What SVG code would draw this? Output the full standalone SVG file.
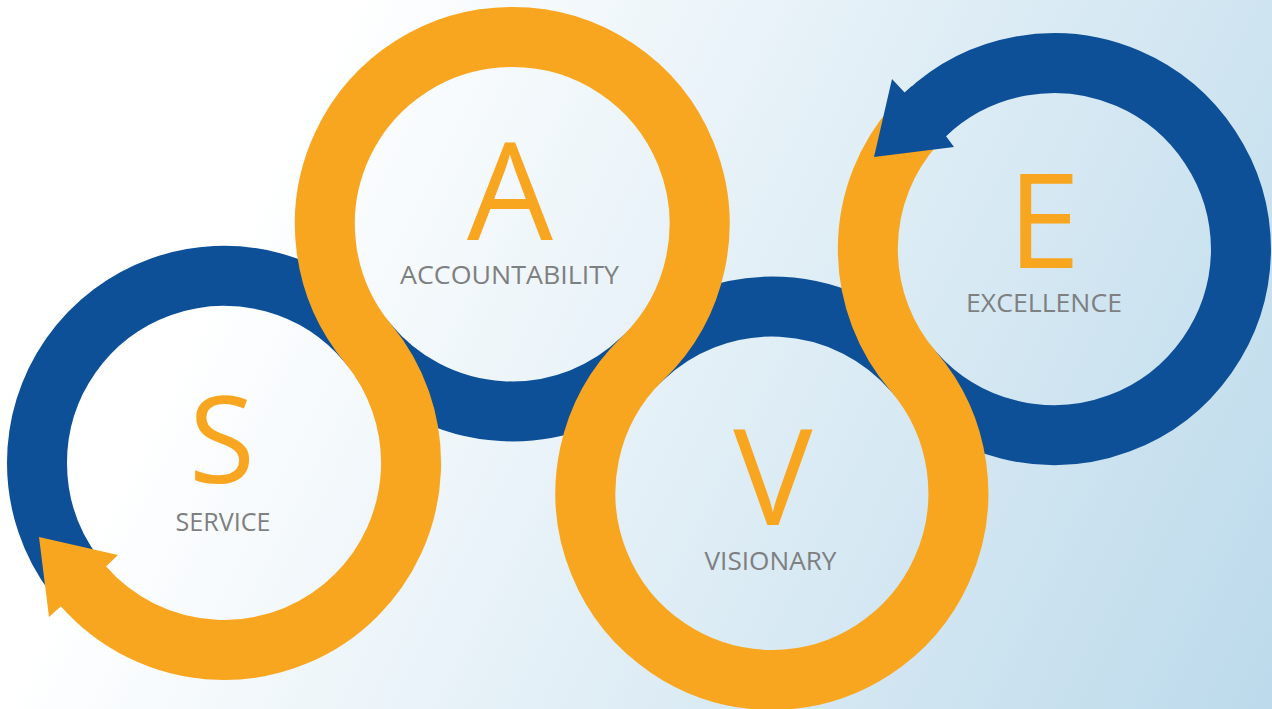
<svg xmlns="http://www.w3.org/2000/svg" width="1272" height="709" viewBox="0 0 1272 709">
<defs>
<linearGradient id="bg" gradientUnits="userSpaceOnUse" x1="250" y1="200" x2="1272" y2="709">
<stop offset="0" stop-color="#ffffff"/>
<stop offset="1" stop-color="#bcdaeb"/>
</linearGradient>
<style>
.ribbon{fill:none;stroke-width:60;stroke-linecap:butt}
.blue{stroke:#0d5098}
.orange{stroke:#f8a61f}
.bluef{fill:#0d5098}
.orangef{fill:#f8a61f}
.big{font-family:"Open Sans","Liberation Sans",sans-serif;font-weight:400;fill:#f8a61f;text-anchor:middle}
.lbl{font-family:"Open Sans","Liberation Sans",sans-serif;font-weight:400;font-size:26px;fill:#7e7f81}
</style>
</defs>
<rect width="1272" height="709" fill="url(#bg)"/>
<g id="connectors">
<path class="ribbon blue" d="M925.3,114.4 A187,187 0 0 1 1241,250 A187,187 0 0 1 913.5,371.5 A187,187 0 0 0 642.5,358.5 A187,187 0 0 1 368,343.5 A187,187 0 0 0 37,463 A187,187 0 0 0 74.7,575.5"/>
<path class="ribbon orange" d="M83.5,586.4 A187,187 0 0 0 356.2,595.2 A187,187 0 0 0 368,343.5 A187,187 0 0 1 512,37 A187,187 0 0 1 642.5,358.5 A187,187 0 0 0 773,680 A187,187 0 0 0 913.5,371.5 A187,187 0 0 1 915,124.9"/>
<polygon class="orangef" points="106,566.6 111.1,572.1 67.9,613.7 61,606.2 49,617 39,537 118,555"/>
<polygon class="bluef" points="874,157 892,79 904.6,92.6 911.6,86.2 951,131.5 945.9,136.1 954,147"/>
</g>
<g id="node-s">
<text class="big" x="222" y="483" font-size="120">S</text>
<text class="lbl" x="175.5" y="531" textLength="95" lengthAdjust="spacingAndGlyphs">SERVICE</text>
</g>
<g id="node-a">
<text class="big" x="510" y="240" font-size="136">A</text>
<text class="lbl" x="400" y="284" textLength="219" lengthAdjust="spacingAndGlyphs">ACCOUNTABILITY</text>
</g>
<g id="node-v">
<text class="big" x="773" y="525" font-size="133">V</text>
<text class="lbl" x="704.5" y="569.5" textLength="132" lengthAdjust="spacingAndGlyphs">VISIONARY</text>
</g>
<g id="node-e">
<text class="big" x="1044" y="268" font-size="131">E</text>
<text class="lbl" x="966" y="312" textLength="156" lengthAdjust="spacingAndGlyphs">EXCELLENCE</text>
</g>
</svg>
